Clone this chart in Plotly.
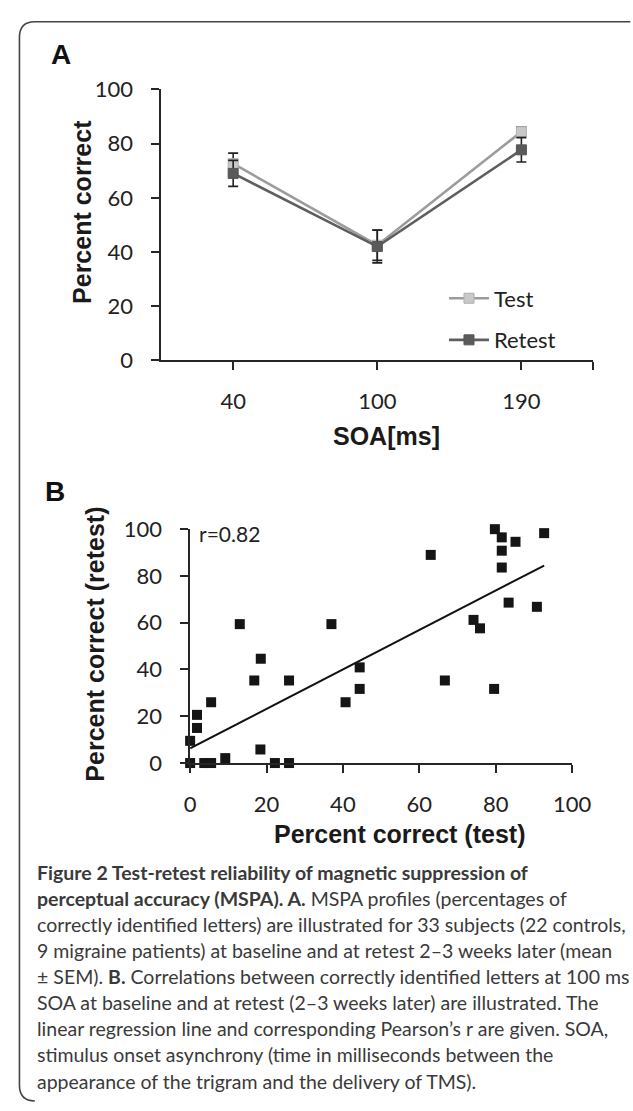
import plotly.graph_objects as go

W, H = 633, 1111

# ---------------- data ----------------
soa_labels = ["40", "100", "190"]
test_mean = [72.6, 42.5, 84.4]
test_sem = [3.9, 5.6, 1.8]
retest_mean = [69.0, 42.0, 77.7]
retest_sem = [4.8, 6.0, 4.5]

b_test = [63.0, 81.6, 81.6, 85.2, 79.8, 81.6, 92.7, 83.4, 90.8, 74.2, 75.9,
          66.7, 79.6, 37.0, 44.4, 44.4, 40.7, 13.0, 18.5, 16.8, 25.9, 5.5,
          1.8, 1.8, 0.0, 18.4, 9.2, 0.0, 3.7, 5.5, 22.2, 25.9]
b_retest = [89.0, 90.8, 83.6, 94.6, 100.0, 96.5, 98.3, 68.6, 66.8, 61.2, 57.6,
            35.3, 31.7, 59.4, 40.9, 31.7, 26.0, 59.4, 44.6, 35.3, 35.3, 26.0,
            20.6, 15.0, 9.5, 5.8, 2.1, 0.0, 0.0, 0.0, 0.0, 0.0]
reg_intercept = 6.3
reg_slope = 0.843
r_label = "r=0.82"

y_ticks = [0, 20, 40, 60, 80, 100]
bx_ticks = [0, 20, 40, 60, 80, 100]

caption_lines = [
    "<b>Figure 2 Test-retest reliability of magnetic suppression of</b>",
    "<b>perceptual accuracy (MSPA). A.</b> MSPA profiles (percentages of",
    "correctly identified letters) are illustrated for 33 subjects (22 controls,",
    "9 migraine patients) at baseline and at retest 2–3 weeks later (mean",
    "± SEM). <b>B.</b> Correlations between correctly identified letters at 100 ms",
    "SOA at baseline and at retest (2–3 weeks later) are illustrated. The",
    "linear regression line and corresponding Pearson’s r are given. SOA,",
    "stimulus onset asynchrony (time in milliseconds between the",
    "appearance of the trigram and the delivery of TMS).",
]


def px(x):
    return x / W


def py(y):
    return 1 - y / H


TICKFONT = dict(family="Lato", size=22, color="#222222")
TITLEFONT = dict(family="Liberation Sans", size=25, color="#1a1a1a", weight="bold")
AXCOL = "#262626"

fig = go.Figure()

xidx = list(range(len(soa_labels)))

fig.add_trace(go.Scatter(
    x=xidx, y=test_mean, name="Test", mode="lines+markers",
    line=dict(color="#9c9c9c", width=2.6),
    marker=dict(symbol="square", size=10, color="#c8c8c8",
                line=dict(color="#b0b0b0", width=1)),
    error_y=dict(type="data", array=test_sem, color="#222222", thickness=1.6, width=5),
    xaxis="x", yaxis="y", legendgroup="t", cliponaxis=False,
))
fig.add_trace(go.Scatter(
    x=xidx, y=retest_mean, name="Retest", mode="lines+markers",
    line=dict(color="#5e5e5e", width=2.6),
    marker=dict(symbol="square", size=10, color="#5a5a5a",
                line=dict(color="#555555", width=1)),
    error_y=dict(type="data", array=retest_sem, color="#222222", thickness=1.6, width=5),
    xaxis="x", yaxis="y", legendgroup="r", cliponaxis=False,
))

# Panel B
xfit = [min(b_test), max(b_test)]
yfit = [reg_intercept + reg_slope * v for v in xfit]
fig.add_trace(go.Scatter(
    x=xfit, y=yfit, mode="lines", line=dict(color="#111111", width=2),
    xaxis="x2", yaxis="y2", showlegend=False, cliponaxis=False,
))
fig.add_trace(go.Scatter(
    x=b_test, y=b_retest, mode="markers",
    marker=dict(symbol="square", size=10, color="#151515"),
    xaxis="x2", yaxis="y2", showlegend=False, cliponaxis=False,
))

axis_common = dict(showline=True, linecolor=AXCOL, linewidth=1.5, ticks="outside",
                   ticklen=8, tickwidth=1.5, tickcolor=AXCOL, showgrid=False,
                   zeroline=False, tickfont=TICKFONT)

fig.update_layout(
    width=W, height=H,
    margin=dict(l=0, r=0, t=0, b=0),
    paper_bgcolor="white", plot_bgcolor="rgba(0,0,0,0)",
    xaxis=dict(domain=[px(161.5), px(611.6)], range=[-0.5, 2.5],
               tickvals=xidx + [2.5], ticktext=soa_labels + [""],
               anchor="y", ticklabelstandoff=12, **axis_common),
    yaxis=dict(domain=[py(355), py(77.3)], range=[0, 100], tickvals=y_ticks,
               anchor="x", ticklabelstandoff=14, **axis_common),
    xaxis2=dict(domain=[px(191.7), px(589.3)], range=[0, 100], tickvals=bx_ticks,
                anchor="y2", ticklabelstandoff=13, **axis_common),
    yaxis2=dict(domain=[py(767.7), py(528)], range=[0, 100], tickvals=y_ticks,
                anchor="x2", ticklabelstandoff=14, **axis_common),
    legend=dict(x=px(456), y=py(270), xanchor="left", yanchor="top",
                font=dict(family="Lato", size=22, color="#222222"),
                bgcolor="rgba(0,0,0,0)", tracegroupgap=10, itemwidth=40),
)


def note(text, x, y, font, **kw):
    d = dict(text=text, x=px(x), y=py(y), xref="paper", yref="paper",
             xanchor="center", yanchor="middle", showarrow=False, font=font)
    d.update(kw)
    return d


BIGFONT = dict(family="Liberation Sans", size=28, color="#111111")
ann = [
    note("<b>A</b>", 57, 42, BIGFONT),
    note("<b>B</b>", 51, 489, BIGFONT),
    note("Percent correct", 79, 203, TITLEFONT, textangle=-90),
    note("SOA[ms]", 396, 432, TITLEFONT),
    note("Percent correct (retest)", 93, 646, TITLEFONT, textangle=-90),
    note("Percent correct (test)", 410, 840, TITLEFONT),
    note(r_label, 199, 532, dict(family="Lato", size=21, color="#222222"), xanchor="left"),
]

cap_y0, cap_dy = 880, 26.7
for i, line in enumerate(caption_lines):
    ann.append(note(line, 30, cap_y0 + i * cap_dy,
                    dict(family="Lato", size=19.5, color="#3a3a3a"), xanchor="left"))
fig.update_layout(annotations=ann)

# frame: left and top edges with rounded corners (right/bottom run off the page)
x0, y0, r = 14, 8, 16
y_end, x_end = 1114, 650
path = (f"M {px(x0 + r)},{py(y_end)} Q {px(x0)},{py(y_end)} {px(x0)},{py(y_end - r)} "
        f"L {px(x0)},{py(y0 + r)} Q {px(x0)},{py(y0)} {px(x0 + r)},{py(y0)} "
        f"L {px(x_end)},{py(y0)}")
fig.add_shape(type="path", path=path, xref="paper", yref="paper",
              line=dict(color="#444444", width=1.6), fillcolor="rgba(0,0,0,0)",
              layer="below")

fig.write_html("out.html", config={"displayModeBar": False},
               post_script="document.body.style.margin='0';"
                           "document.body.style.overflow='hidden';")
